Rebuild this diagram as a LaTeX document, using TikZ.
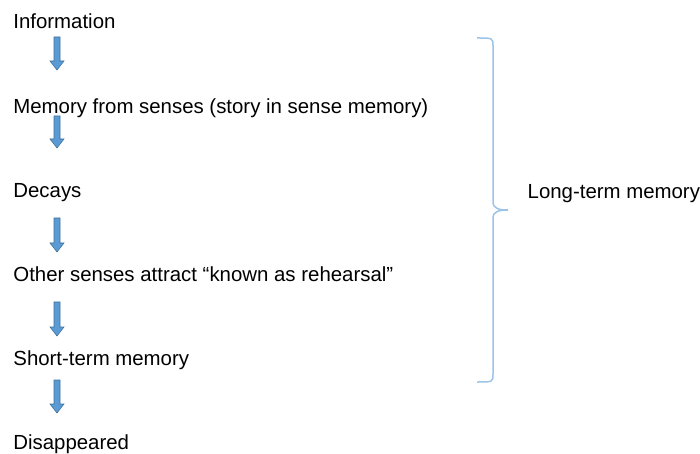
\documentclass[tikz,border=0pt]{standalone}
\usepackage{fontspec}
\setmainfont{Liberation Sans}
\definecolor{arrfill}{HTML}{5B9BD5}
\definecolor{arrline}{HTML}{41719C}
\definecolor{bracec}{HTML}{9DC3E6}
\begin{document}
\begin{tikzpicture}[x=1bp,y=-1bp,
  lbl/.style={anchor=base west,inner sep=0pt,font=\fontsize{20.4bp}{24bp}\selectfont},
  blockarrow/.style={fill=arrfill,draw=arrline,line width=0.6bp,line join=miter}]
\useasboundingbox (0,0) rectangle (700,454);
\node[lbl] (t1) at (13.2,28.5) {Information};
\node[lbl] (t2) at (13.2,113.5) {Memory from senses (story in sense memory)};
\node[lbl] (t3) at (13.2,197.5) {Decays};
\node[lbl] (t4) at (13.2,281.5) {Other senses attract “known as rehearsal”};
\node[lbl] (t5) at (13.2,365.5) {Short-term memory};
\node[lbl] (t6) at (13.2,449.5) {Disappeared};
\node[lbl] (lt) at (527.5,198.5) {Long-term memory};
% block arrows
\foreach \n/\ya/\yb in {a1/37/70, a2/116/148, a3/218/252, a4/302/336, a5/380/413}{
  \path[blockarrow] (54,\ya) -- (60,\ya) -- (60,\yb-9) -- (64,\yb-9) -- (57,\yb) -- (50,\yb-9) -- (54,\yb-9) -- cycle;
}
% brace
\coordinate (bt) at (477,38);
\coordinate (bm) at (508,210);
\coordinate (bb) at (477,382);
\draw[bracec,line width=1.5bp] (bt) .. controls (493,38) and (493,38) .. (493,46)
  -- (493,202) .. controls (493,209) and (500,210) .. (bm)
  .. controls (500,210) and (493,211) .. (493,218)
  -- (493,374) .. controls (493,382) and (493,382) .. (bb);
\end{tikzpicture}
\end{document}
